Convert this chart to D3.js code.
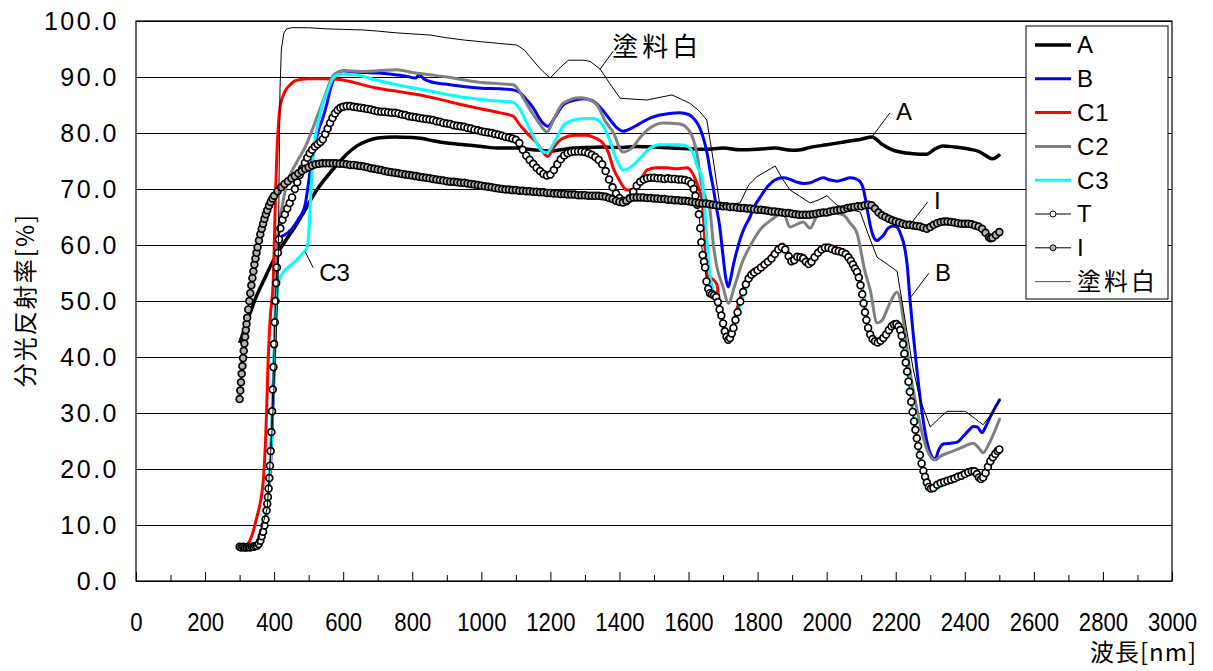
<!DOCTYPE html>
<html>
<head>
<meta charset="utf-8">
<script src="https://cdn.jsdelivr.net/npm/d3@7"></script>
<style>
  body { margin: 0; background: #ffffff; }
  text { font-family: "Liberation Sans", Arial, "Noto Sans CJK JP", sans-serif; fill: #000000; }
  .jp { font-family: "Noto Sans CJK JP", "Noto Sans", sans-serif; }
</style>
</head>
<body>
<div id="vis"></div>
<script>
//Declare constants for frame
const FRAME_HEIGHT = 671;
const FRAME_WIDTH = 1213;
const MARGINS = {left: 136, right: 41, top: 21, bottom: 90};

const VIS_HEIGHT = FRAME_HEIGHT - MARGINS.top - MARGINS.bottom;
const VIS_WIDTH = FRAME_WIDTH - MARGINS.left - MARGINS.right;

// tick values
const X_TICKS = [0, 200, 400, 600, 800, 1000, 1200, 1400, 1600, 1800, 2000, 2200, 2400, 2600, 2800, 3000];
const X_MINOR_TICKS = [100, 300, 500, 700, 900, 1100, 1300, 1500, 1700, 1900, 2100, 2300, 2500, 2700, 2900];
const Y_TICKS = [0, 10, 20, 30, 40, 50, 60, 70, 80, 90, 100];

// series names (legend order)
const SERIES_NAMES = ["A", "B", "C1", "C2", "C3", "T", "I", "塗料白"];

// [wavelength nm, reflectance %]
const SERIES_A = [[300,42.5],[320,46.0],[345,50.3],[370,53.7],[400,57.5],[430,60.5],[460,63.2],[490,66.3],[520,69.5],[550,72.0],[580,74.2],[610,76.2],[640,77.7],[670,78.6],[700,79.1],[750,79.3],[800,79.2],[830,79.0],[860,78.6],[900,78.2],[950,77.9],[1000,77.6],[1050,77.3],[1100,77.3],[1150,77.0],[1200,76.8],[1250,77.2],[1300,77.4],[1350,77.5],[1400,77.4],[1450,77.6],[1500,77.5],[1550,77.3],[1600,77.2],[1650,77.1],[1700,77.3],[1750,77.0],[1800,77.1],[1850,77.3],[1900,76.9],[1925,77.0],[1950,77.4],[2000,77.9],[2050,78.4],[2100,78.9],[2131,79.3],[2160,78.0],[2190,77.0],[2213,76.6],[2250,76.3],[2290,76.2],[2310,77.0],[2337,77.7],[2370,77.5],[2415,77.1],[2440,76.7],[2460,76.0],[2479,75.4],[2490,75.6],[2502,76.2]];

const SERIES_B = [[300,6.0],[350,6.2],[365,7.5],[375,10.0],[385,16.0],[390,21.0],[395,28.0],[400,38.0],[404,48.0],[408,55.0],[412,59.0],[416,60.8],[422,61.5],[430,61.8],[440,62.2],[455,63.2],[470,64.6],[482,65.8],[490,67.2],[497,70.0],[504,73.0],[511,75.5],[520,78.3],[530,80.8],[540,82.5],[553,85.3],[562,87.6],[570,89.2],[585,90.7],[600,91.1],[630,90.9],[660,90.8],[700,90.7],[740,90.5],[780,90.2],[810,89.8],[820,90.4],[835,89.6],[851,89.2],[900,88.7],[947,88.3],[1000,88.0],[1054,87.9],[1092,87.7],[1112,87.2],[1130,86.0],[1150,84.5],[1175,82.0],[1193,81.2],[1210,82.5],[1237,85.0],[1265,85.8],[1295,86.1],[1320,85.8],[1344,84.6],[1370,82.6],[1393,80.9],[1410,80.3],[1422,80.5],[1445,81.2],[1468,82.0],[1490,82.7],[1517,83.2],[1545,83.5],[1575,83.6],[1600,83.3],[1613,82.7],[1628,81.5],[1642,79.3],[1655,76.0],[1663,73.0],[1671,70.4],[1680,67.0],[1691,63.0],[1700,58.0],[1708,54.0],[1715,52.5],[1722,54.0],[1730,56.5],[1740,59.0],[1752,61.5],[1765,63.5],[1778,65.0],[1790,66.8],[1807,68.5],[1830,70.5],[1850,71.6],[1874,72.0],[1895,71.7],[1915,71.2],[1935,71.0],[1952,71.1],[1970,71.6],[1990,72.0],[2010,71.6],[2030,71.4],[2050,71.7],[2068,72.0],[2085,71.8],[2097,71.3],[2105,70.3],[2112,68.3],[2120,65.5],[2128,63.0],[2137,61.3],[2146,60.8],[2155,61.2],[2165,61.8],[2178,63.0],[2192,63.4],[2204,63.2],[2215,61.8],[2225,59.8],[2233,56.5],[2241,50.5],[2250,44.5],[2260,38.5],[2270,33.0],[2280,28.5],[2290,25.0],[2300,22.8],[2314,21.8],[2325,23.5],[2340,24.5],[2360,24.6],[2378,24.8],[2395,25.8],[2410,26.8],[2425,27.6],[2436,27.5],[2450,26.5],[2460,27.5],[2475,29.5],[2490,31.2],[2502,32.5]];

const SERIES_C1 = [[300,6.0],[320,6.4],[335,8.0],[350,11.4],[360,14.0],[368,17.5],[372,21.0],[376,26.4],[379,32.0],[382,38.2],[386,44.0],[390,48.0],[394,50.5],[397,53.0],[400,59.0],[404,69.0],[408,76.4],[412,81.0],[417,84.6],[425,86.5],[435,87.8],[446,88.6],[460,89.3],[480,89.6],[500,89.7],[540,89.7],[582,89.6],[620,89.2],[657,88.6],[700,88.0],[760,87.4],[822,86.8],[880,86.0],[947,85.0],[1000,84.3],[1054,83.6],[1092,83.0],[1112,81.4],[1135,79.8],[1161,78.2],[1180,76.5],[1193,75.8],[1210,77.5],[1237,79.1],[1270,79.6],[1306,79.6],[1330,79.1],[1352,78.2],[1368,76.5],[1381,73.9],[1400,71.5],[1422,69.8],[1437,69.8],[1451,70.4],[1465,72.0],[1480,73.4],[1510,73.8],[1538,73.8],[1565,73.6],[1595,73.8],[1610,73.0],[1624,71.1],[1633,69.5],[1639,68.0],[1645,63.0],[1650,57.0],[1655,54.5],[1662,54.3],[1672,53.8],[1682,53.0],[1690,49.0],[1697,47.0],[1705,45.0],[1715,43.6],[1725,44.8],[1740,48.5],[1760,52.5],[1780,55.2],[1800,56.0],[1830,57.5],[1850,59.0],[1874,60.2],[1890,58.5],[1903,57.5],[1932,58.2],[1952,57.0],[1975,58.8],[2001,60.0],[2030,59.5],[2055,58.8],[2075,57.0],[2090,55.5],[2105,51.5],[2117,46.5],[2133,43.5],[2146,43.0],[2170,44.0],[2195,46.3],[2210,45.5],[2220,42.5],[2235,37.5],[2250,30.0],[2265,24.0],[2280,19.8],[2295,17.5],[2310,17.0],[2340,18.0],[2380,19.0],[2420,19.9],[2435,19.5],[2447,18.6],[2460,19.5],[2480,22.0],[2500,23.8]];

const SERIES_C2 = [[300,6.0],[350,6.2],[370,9.0],[380,13.0],[390,23.0],[395,31.0],[400,40.0],[404,50.0],[408,60.0],[415,64.0],[425,67.5],[437,71.0],[450,73.0],[469,75.2],[490,77.5],[510,80.5],[525,83.0],[539,85.3],[555,88.0],[568,90.0],[585,90.9],[600,91.1],[650,91.0],[700,91.1],[756,91.3],[800,90.8],[851,90.4],[900,90.0],[947,89.5],[1000,89.0],[1054,88.8],[1092,88.6],[1110,87.5],[1121,86.3],[1141,84.2],[1165,82.0],[1190,80.2],[1210,82.5],[1237,85.3],[1286,86.3],[1306,86.1],[1335,85.0],[1360,82.0],[1381,80.2],[1410,76.6],[1439,77.5],[1460,79.2],[1480,80.5],[1526,81.8],[1575,81.6],[1604,80.2],[1624,76.4],[1639,70.4],[1652,68.0],[1662,66.3],[1672,60.0],[1682,56.1],[1700,52.5],[1715,49.6],[1735,53.0],[1758,57.3],[1780,60.0],[1807,62.7],[1840,64.5],[1874,65.7],[1894,63.2],[1910,63.6],[1932,64.1],[1952,63.0],[1975,65.4],[2000,65.6],[2019,65.7],[2048,65.4],[2068,63.9],[2088,62.1],[2097,59.6],[2110,55.5],[2126,52.0],[2146,46.1],[2160,46.5],[2175,48.5],[2190,50.5],[2204,51.6],[2215,49.5],[2221,47.1],[2240,38.0],[2262,30.5],[2290,23.5],[2314,21.6],[2330,22.3],[2357,23.0],[2390,23.8],[2424,24.6],[2440,23.8],[2453,22.9],[2470,24.5],[2485,26.5],[2502,29.1]];

const SERIES_C3 = [[300,6.0],[350,6.2],[362,7.6],[372,9.8],[380,13.5],[386,18.0],[390,22.5],[394,29.0],[398,36.0],[402,44.0],[406,49.0],[410,52.5],[416,54.0],[425,55.0],[440,56.0],[460,57.0],[484,58.6],[495,59.5],[500,62.0],[504,66.5],[508,71.0],[513,76.0],[520,79.5],[530,82.5],[540,85.0],[553,87.2],[568,89.5],[585,90.4],[600,90.5],[634,90.4],[692,89.5],[756,88.6],[850,87.5],[947,86.4],[1000,86.0],[1054,85.7],[1092,85.5],[1112,84.2],[1130,82.0],[1150,79.5],[1175,76.8],[1190,76.5],[1215,78.8],[1240,81.5],[1266,82.3],[1300,82.6],[1324,82.6],[1352,81.4],[1370,79.0],[1390,75.5],[1410,73.4],[1430,73.8],[1460,75.5],[1489,77.3],[1517,77.9],[1545,77.9],[1575,77.9],[1600,77.5],[1613,76.4],[1625,74.0],[1639,72.1],[1645,68.0],[1652,62.0],[1658,57.0],[1665,53.5],[1675,51.3],[1685,50.0],[1697,46.5],[1710,43.2],[1718,42.8],[1728,44.8],[1742,47.8],[1760,51.2],[1780,54.3],[1800,55.4],[1836,57.3],[1874,59.6],[1890,58.0],[1903,57.2],[1932,57.7],[1952,56.6],[1975,58.6],[2001,59.6],[2048,58.8],[2075,56.8],[2092,54.5],[2106,51.0],[2120,45.3],[2133,43.2],[2148,42.5],[2172,44.0],[2195,46.0],[2213,45.3],[2222,42.3],[2236,36.5],[2250,30.5],[2264,24.5],[2278,19.8],[2294,16.2],[2310,16.3],[2340,17.2],[2380,18.3],[2420,19.4],[2440,18.8],[2450,18.3],[2465,19.8],[2485,22.2],[2502,23.6]];

const SERIES_T = [[300,6.1],[305,6.0],[310,6.1],[315,6.0],[320,6.0],[325,6.1],[330,6.0],[335,6.1],[340,6.1],[345,6.2],[350,6.3],[355,6.6],[360,7.2],[364,8.0],[368,8.8],[372,9.9],[375,11.0],[378,12.6],[380,13.8],[382,15.0],[384,16.5],[386,18.4],[388,20.6],[390,23.2],[392,26.6],[394,30.3],[396,34.2],[398,38.2],[400,42.3],[402,46.2],[404,50.0],[406,53.2],[408,56.0],[411,58.6],[414,61.0],[418,63.0],[424,64.5],[431,65.5],[438,66.5],[445,67.5],[452,68.5],[460,70.0],[467,71.2],[474,72.5],[481,73.6],[489,74.7],[496,75.6],[503,76.4],[510,77.0],[518,77.6],[526,78.0],[534,78.4],[541,78.9],[548,79.8],[555,80.8],[562,81.8],[569,82.7],[576,83.5],[584,84.1],[592,84.5],[600,84.7],
  [610,84.8],[620,84.8],[630,84.7],[640,84.6],[650,84.5],[660,84.4],[670,84.3],[680,84.2],[690,84.0],[700,83.9],[710,83.8],[720,83.8],[730,83.7],[740,83.6],[750,83.6],[760,83.5],[770,83.3],[780,83.2],[790,83.0],[800,82.9],[810,82.8],[820,82.7],[830,82.6],[840,82.5],[850,82.4],[860,82.3],[870,82.1],[880,82.0],[890,81.8],[900,81.7],[910,81.6],[920,81.4],[930,81.3],[940,81.2],[950,81.1],[960,80.9],[970,80.8],[980,80.6],[990,80.5],[1000,80.3],[1010,80.2],[1020,80.1],[1030,80.0],[1040,79.8],[1050,79.7],[1060,79.5],[1070,79.3],[1080,79.2],[1090,79.0],[1100,78.8],[1110,78.2],
  [1120,77.0],[1130,76.0],[1140,75.2],[1150,74.5],[1160,73.8],[1170,73.2],[1180,72.7],[1190,72.4],[1200,72.6],[1210,73.4],[1220,74.4],[1230,75.3],[1240,76.0],[1250,76.4],[1260,76.6],[1270,76.7],[1280,76.7],[1290,76.7],[1300,76.6],[1310,76.4],[1320,76.1],[1330,75.7],[1340,75.2],[1350,74.4],[1360,73.2],[1370,71.7],[1380,70.3],[1390,69.2],[1400,68.4],[1410,67.9],[1420,67.8],[1430,68.4],[1440,69.5],[1450,70.6],[1460,71.3],[1470,71.7],[1480,71.9],[1490,72.0],[1500,72.0],[1510,71.9],[1520,71.9],[1530,71.8],[1540,71.9],[1550,71.8],[1560,71.8],[1570,71.7],[1580,71.7],[1590,71.6],[1600,71.4],[1608,71.0],[1615,70.0],[1620,68.8],[1625,67.2],[1630,65.5],[1634,63.0],[1637,60.5],[1641,58.2],[1645,57.0],[1648,56.0],[1652,53.5],[1657,52.2],[1662,51.4],[1668,51.2],[1674,51.0],[1680,50.7],[1685,49.8],[1690,48.5],[1695,47.4],[1700,46.0],[1705,44.6],[1710,43.6],[1715,43.1],[1720,43.4],[1725,44.2],[1730,45.2],[1736,46.6],[1742,48.0],[1750,49.9],[1758,51.6],[1766,53.0],[1774,54.0],[1782,54.7],[1790,55.1],[1800,55.5],[1810,56.0],[1820,56.5],[1830,57.0],[1840,57.6],[1850,58.4],[1860,59.2],[1870,59.6],[1880,59.2],[1890,58.0],[1898,57.1],[1906,57.3],[1915,57.9],[1924,57.8],[1932,57.6],[1940,57.0],[1948,56.6],[1956,57.0],[1965,57.8],[1975,58.6],[1985,59.2],[1995,59.5],[2005,59.5],[2015,59.3],[2025,59.0],[2035,58.9],[2045,58.7],[2055,58.4],[2063,57.8],[2070,57.2],[2076,56.5],[2082,55.8],[2088,55.2],[2093,54.2],[2098,52.8],[2103,51.2],[2107,49.6],[2111,48.0],[2115,46.6],[2120,45.2],[2126,44.0],[2133,43.2],[2140,42.8],[2148,42.6],[2156,42.9],[2164,43.4],[2172,44.0],[2180,44.8],[2188,45.5],[2195,45.8],[2202,45.9],[2208,45.5],[2213,44.8],[2217,43.8],[2221,42.3],[2225,40.6],[2229,39.0],[2233,37.4],[2237,35.6],[2241,33.8],[2245,32.0],[2249,30.2],[2253,28.5],[2257,27.0],[2261,25.5],[2265,24.1],[2270,22.5],[2275,21.0],[2280,19.7],[2285,18.6],[2290,17.6],[2296,16.8],[2302,16.5],[2309,16.6],[2320,17.2],[2330,17.5],[2340,17.7],[2350,17.9],[2360,18.1],[2370,18.3],[2380,18.6],[2390,18.8],[2400,19.1],[2410,19.4],[2420,19.6],[2428,19.6],[2435,19.1],[2441,18.5],[2447,18.2],[2453,18.5],[2460,19.3],[2467,20.4],[2474,21.4],[2481,22.1],[2488,22.7],[2495,23.2],[2500,23.5]];

const SERIES_I = [[300,32.5],[302,34.0],[304,35.5],[306,37.0],[308,38.4],[310,39.8],[312,41.1],[314,42.4],[316,43.6],[318,44.8],[320,45.9],[322,47.0],[325,48.5],[328,50.0],[331,51.4],[334,52.8],[337,54.1],[340,55.3],[343,56.5],[346,57.6],[349,58.6],[352,59.6],[356,60.8],[360,61.9],[364,62.9],[368,63.8],[372,64.7],[376,65.5],[380,66.2],[385,67.0],[390,67.7],[395,68.3],[400,68.8],[410,69.6],[420,70.3],[430,70.9],[440,71.4],[450,71.9],[460,72.3],[470,72.8],[480,73.2],[490,73.6],[500,73.9],[510,74.2],[520,74.4],[530,74.5],[540,74.6],[550,74.6],[560,74.6],[570,74.6],[580,74.6],[590,74.5],[600,74.5],
  [610,74.4],[620,74.3],[630,74.3],[640,74.2],[650,74.1],[660,74.0],[670,73.9],[680,73.7],[690,73.6],[700,73.5],[710,73.4],[720,73.2],[730,73.1],[740,73.0],[750,72.9],[760,72.8],[770,72.7],[780,72.6],[790,72.5],[800,72.4],[810,72.3],[820,72.2],[830,72.1],[840,72.0],[850,71.9],[860,71.8],[870,71.7],[880,71.6],[890,71.5],[900,71.4],[910,71.3],[920,71.3],[930,71.2],[940,71.1],[950,71.1],[960,71.0],[970,70.9],[980,70.8],[990,70.7],[1000,70.6],[1010,70.5],[1020,70.4],[1030,70.3],[1040,70.2],[1050,70.1],[1060,70.0],[1070,69.9],[1080,69.9],[1090,69.8],[1100,69.8],[1110,69.7],[1120,69.7],[1130,69.6],[1140,69.6],[1150,69.5],[1160,69.5],[1170,69.4],[1180,69.4],[1190,69.3],[1200,69.3],[1210,69.2],[1220,69.2],[1230,69.1],[1240,69.1],[1250,69.0],[1260,69.0],[1270,69.0],[1280,68.9],[1290,68.9],[1300,68.9],[1310,68.8],[1320,68.8],[1330,68.8],[1340,68.8],[1350,68.7],[1360,68.6],[1370,68.4],[1380,68.2],[1390,67.9],[1400,67.7],[1410,67.6],[1420,67.9],[1430,68.3],[1440,68.5],[1450,68.5],[1460,68.5],[1470,68.5],[1480,68.4],[1490,68.4],[1500,68.3],[1510,68.3],[1520,68.2],[1530,68.2],[1540,68.1],[1550,68.1],[1560,68.0],[1570,68.0],[1580,67.9],[1590,67.9],[1600,67.8],
  [1610,67.7],[1620,67.6],[1630,67.5],[1640,67.4],[1650,67.4],[1660,67.3],[1670,67.2],[1680,67.1],[1690,67.0],[1700,66.9],[1710,66.9],[1720,66.8],[1730,66.8],[1740,66.7],[1750,66.6],[1760,66.6],[1770,66.5],[1780,66.5],[1790,66.4],[1800,66.3],[1810,66.3],[1820,66.2],[1830,66.1],[1840,66.0],[1850,66.0],[1860,65.9],[1870,65.8],[1880,65.7],[1890,65.7],[1900,65.6],[1910,65.5],[1920,65.4],[1930,65.4],[1940,65.4],[1950,65.4],[1960,65.5],[1970,65.6],[1980,65.7],[1990,65.8],[2000,65.8],[2010,66.0],[2020,66.1],[2030,66.2],[2040,66.3],[2050,66.4],[2060,66.6],[2070,66.7],[2080,66.8],[2090,66.9],[2100,66.9],[2110,67.1],[2120,67.2],[2130,67.1],[2140,66.5],[2150,65.8],[2160,65.3],[2170,65.0],[2180,64.7],[2190,64.4],[2200,64.2],[2210,64.0],[2220,63.8],[2230,63.6],[2240,63.6],[2250,63.5],[2260,63.4],[2270,63.3],[2280,63.1],[2290,62.9],[2300,63.2],[2310,63.6],[2320,63.9],[2330,64.1],[2340,64.2],[2350,64.2],[2360,64.1],[2370,64.0],[2380,63.9],[2390,63.8],[2400,63.8],[2410,63.8],[2420,63.7],[2430,63.5],[2440,63.3],[2450,62.9],[2460,62.2],[2470,61.4],[2475,61.2],[2480,61.3],[2490,61.8],[2500,62.3]];

const SERIES_PAINT = [[300,6.0],[350,6.3],[380,13.0],[395,28.0],[405,42.0],[411,52.0],[414,70.0],[417,88.0],[421,95.0],[428,97.8],[436,98.6],[450,98.8],[500,98.8],[550,98.6],[600,98.5],[657,98.4],[700,98.2],[750,97.9],[800,97.7],[851,97.5],[900,97.0],[950,96.6],[1000,96.3],[1050,96.0],[1103,95.7],[1125,94.8],[1141,93.6],[1170,91.5],[1199,89.8],[1225,91.5],[1252,93.0],[1295,93.0],[1315,92.8],[1344,91.4],[1370,89.0],[1402,86.2],[1450,86.0],[1480,85.9],[1552,86.8],[1580,86.0],[1604,85.3],[1630,84.0],[1653,82.3],[1672,75.0],[1691,67.0],[1720,67.3],[1749,67.5],[1775,70.8],[1798,72.2],[1851,74.1],[1872,71.8],[1894,69.8],[1920,68.8],[1952,67.5],[1975,68.0],[2001,68.8],[2030,67.1],[2060,66.5],[2097,65.9],[2120,62.0],[2146,57.8],[2175,56.6],[2204,55.3],[2230,45.5],[2250,38.0],[2270,32.5],[2300,27.5],[2325,29.0],[2349,30.3],[2401,30.3],[2430,29.0],[2453,27.9],[2480,30.0],[2502,32.6]];

// drawing options per series
const SERIES = [
  {name: SERIES_NAMES[0], data: SERIES_A, color: "#000000", width: 3.5, curve: d3.curveMonotoneX},
  {name: SERIES_NAMES[1], data: SERIES_B, color: "#0000ff", width: 3, curve: d3.curveMonotoneX},
  {name: SERIES_NAMES[2], data: SERIES_C1, color: "#ff0000", width: 3, curve: d3.curveMonotoneX},
  {name: SERIES_NAMES[3], data: SERIES_C2, color: "#808080", width: 3, curve: d3.curveMonotoneX},
  {name: SERIES_NAMES[4], data: SERIES_C3, color: "#00ffff", width: 3, curve: d3.curveMonotoneX},
  {name: SERIES_NAMES[5], data: SERIES_T, color: "#000000", width: 1, curve: d3.curveLinear, marker: "#ffffff"},
  {name: SERIES_NAMES[6], data: SERIES_I, color: "#000000", width: 1, curve: d3.curveLinear, marker: "#b4b4b4"},
  {name: SERIES_NAMES[7], data: SERIES_PAINT, color: "#000000", width: 1, curve: d3.curveLinear}
];

//create a new frame
const FRAME = d3.select("#vis")
                .append("svg")
                  .attr("height", FRAME_HEIGHT)
                  .attr("width", FRAME_WIDTH);

const X_SCALE = d3.scaleLinear()
                  .domain([0, 3000])
                  .range([0, VIS_WIDTH]);

const Y_SCALE = d3.scaleLinear()
                  .domain([0, 100])
                  .range([VIS_HEIGHT, 0]);

const PLOT = FRAME.append("g")
                  .attr("transform", "translate(" + MARGINS.left + "," + MARGINS.top + ")");

// y axis with gridlines
const Y_AXIS = PLOT.append("g")
    .call(d3.axisLeft(Y_SCALE).tickValues(Y_TICKS).tickSize(-VIS_WIDTH)
            .tickPadding(17).tickFormat(d3.format(".1f")));
Y_AXIS.select(".domain").remove();
Y_AXIS.selectAll("line").attr("stroke", "#000000").attr("stroke-width", 1);
Y_AXIS.selectAll("text").attr("font-size", "25px").attr("letter-spacing", "2.5px");

// x axis, ticks pointing inward
const X_AXIS = PLOT.append("g")
    .attr("transform", "translate(0," + VIS_HEIGHT + ")")
    .call(d3.axisBottom(X_SCALE).tickValues(X_TICKS).tickSize(-9).tickPadding(32)
            .tickFormat(d3.format("d")));
X_AXIS.select(".domain").remove();
X_AXIS.selectAll("text")
    .attr("font-size", "25px")
    .attr("textLength", (d) => { return String(d).length * 12.3; })
    .attr("lengthAdjust", "spacingAndGlyphs");

const X_MINOR = PLOT.append("g")
    .attr("transform", "translate(0," + VIS_HEIGHT + ")")
    .call(d3.axisBottom(X_SCALE).tickValues(X_MINOR_TICKS).tickSize(-6).tickFormat(""));
X_MINOR.select(".domain").remove();

// plot frame
PLOT.append("rect")
    .attr("x", 0).attr("y", 0)
    .attr("width", VIS_WIDTH).attr("height", VIS_HEIGHT)
    .attr("fill", "none").attr("stroke", "#000000").attr("stroke-width", 1.2);

// lines and markers
SERIES.forEach((s) => {
  const LINE = d3.line()
      .x((d) => { return X_SCALE(d[0]); })
      .y((d) => { return Y_SCALE(d[1]); })
      .curve(s.curve);

  PLOT.append("path")
      .datum(s.data)
      .attr("d", LINE)
      .attr("fill", "none")
      .attr("stroke", s.color)
      .attr("stroke-width", s.width)
      .attr("stroke-linejoin", "round");

  if (s.marker) {
    PLOT.selectAll(".pt" + s.name)
        .data(s.data)
        .enter()
        .append("circle")
          .attr("cx", (d) => { return X_SCALE(d[0]); })
          .attr("cy", (d) => { return Y_SCALE(d[1]); })
          .attr("r", 3.4)
          .attr("fill", s.marker)
          .attr("stroke", "#000000")
          .attr("stroke-width", 1.7);
  }
});

// callouts: [label, wavelength, value of line point, dx, dy]
const CALLOUTS = [
  ["塗料白", 1344, 91.4, 13, -18],
  ["A", 2131, 79.3, 18, -24],
  ["I", 2241, 63.6, 18, -23],
  ["B", 2241, 50.5, 19, -25],
  ["C3", 490, 58.8, 8, 16]
];
CALLOUTS.forEach((c) => {
  const PX = X_SCALE(c[1]);
  const PY = Y_SCALE(c[2]);
  const IS_JP = c[0] === "塗料白";
  PLOT.append("line")
      .attr("x1", PX).attr("y1", PY)
      .attr("x2", PX + c[3]).attr("y2", PY + c[4])
      .attr("stroke", "#000000").attr("stroke-width", 1);
  PLOT.append("text")
      .attr("class", IS_JP ? "jp" : "")
      .attr("x", PX + c[3] + (IS_JP ? -1 : 6))
      .attr("y", PY + c[4] + (c[4] < 0 ? (IS_JP ? -4 : -1) : 5))
      .attr("dy", "0.35em")
      .attr("font-size", IS_JP ? "26px" : "24px")
      .attr("letter-spacing", IS_JP ? "4px" : "0px")
      .text(c[0]);
});

// legend
const LEGEND = FRAME.append("g").attr("transform", "translate(1026,26)");
LEGEND.append("rect")
    .attr("width", 142).attr("height", 273)
    .attr("fill", "#ffffff").attr("stroke", "#000000").attr("stroke-width", 1);

SERIES.forEach((s, i) => {
  const LY = 19 + i * 33.8;
  LEGEND.append("line")
      .attr("x1", 9).attr("x2", 45)
      .attr("y1", LY).attr("y2", LY)
      .attr("stroke", s.name === "塗料白" ? "#555555" : s.color)
      .attr("stroke-width", s.width);
  if (s.marker) {
    LEGEND.append("circle")
        .attr("cx", 27).attr("cy", LY).attr("r", 3)
        .attr("fill", s.marker).attr("stroke", "#000000");
  }
  LEGEND.append("text")
      .attr("class", s.name === "塗料白" ? "jp" : "")
      .attr("x", 51).attr("y", LY)
      .attr("dy", "0.35em")
      .attr("font-size", "24px")
      .attr("letter-spacing", s.name === "塗料白" ? "3px" : "1px")
      .text(s.name);
});

// axis titles
FRAME.append("text")
    .attr("class", "jp")
    .attr("transform", "translate(26,300) rotate(-90)")
    .attr("text-anchor", "middle")
    .attr("dy", "0.35em")
    .attr("font-size", "24px")
    .attr("letter-spacing", "2px")
    .text("分光反射率[%]");

FRAME.append("text")
    .attr("class", "jp")
    .attr("x", 1197).attr("y", 653)
    .attr("text-anchor", "end")
    .attr("dy", "0.35em")
    .attr("font-size", "24px")
    .attr("letter-spacing", "1px")
    .text("波長[nm]");
</script>
</body>
</html>
